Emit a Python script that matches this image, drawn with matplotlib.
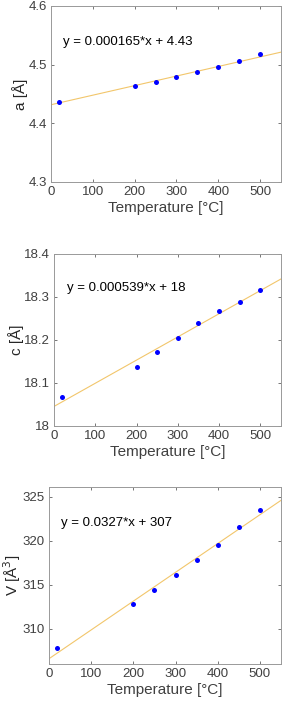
import numpy as np
import matplotlib
matplotlib.use('Agg')
import matplotlib.pyplot as plt

plt.rcParams['font.family'] = ['Liberation Sans', 'DejaVu Sans']

temp = [20, 200, 250, 300, 350, 400, 450, 500]
a_vals = [4.4367, 4.4640, 4.4708, 4.4788, 4.4867, 4.4953, 4.5067, 4.5175]
c_vals = [18.0668, 18.1383, 18.1732, 18.2043, 18.2400, 18.2680, 18.2890, 18.3169]
v_vals = [307.81, 312.86, 314.45, 316.07, 317.76, 319.53, 321.53, 323.53]

# fit lines (slope, intercept)
a_fit = (0.000163, 4.4317)
c_fit = (0.000539, 18.0455)
v_fit = (0.0327, 306.6)

eqs = ['y = 0.000165*x + 4.43', 'y = 0.000539*x + 18', 'y = 0.0327*x + 307']
ylabels = ['a [Å]', 'c [Å]', 'V [Å$^3$]']
yticks = [[4.3, 4.4, 4.5, 4.6], [18, 18.1, 18.2, 18.3, 18.4], [310, 315, 320, 325]]
yticklabels = [['4.3', '4.4', '4.5', '4.6'], ['18', '18.1', '18.2', '18.3', '18.4'], ['310', '315', '320', '325']]
ylims = [(4.3, 4.6), (18, 18.4), (306.0, 326.1)]
xticks = [0, 100, 200, 300, 400, 500]

W, H = 283, 706
fig = plt.figure(figsize=(W / 100, H / 100), dpi=100)

# axes boxes in pixels: left, top, right, bottom
boxes = [(51, 6, 281, 182), (54, 254, 281, 426), (49, 487, 281, 664)]
text_pos = [(28.7, 4.539), (31.5, 18.321), (28.4, 322.0)]

series = [a_vals, c_vals, v_vals]
fits = [a_fit, c_fit, v_fit]

fx = np.array([0, 550])
for i in range(3):
    l, t, r, b = boxes[i]
    ax = fig.add_axes([l / W, 1 - b / H, (r - l) / W, (b - t) / H])
    m, q = fits[i]
    ax.plot(fx, m * fx + q, color='#f2c66b', lw=0.8, zorder=1)
    ax.plot(temp, series[i], 'o', color='#0000ff', markersize=3.6, markeredgewidth=0, zorder=2)
    ax.set_xlim(0, 550)
    ax.set_ylim(*ylims[i])
    ax.set_xticks(xticks)
    ax.set_yticks(yticks[i])
    ax.set_yticklabels(yticklabels[i])
    ax.tick_params(direction='in', top=True, right=True, labelsize=9.5,
                   colors='#404040', length=2.5, width=0.5, pad=3)
    for s in ax.spines.values():
        s.set_color('#999999')
        s.set_linewidth(0.7)
    ax.set_xlabel('Temperature [°C]', fontsize=11, color='#404040', labelpad=2)
    ax.set_ylabel(ylabels[i], fontsize=11, color='#262626', labelpad=0)
    ax.text(text_pos[i][0], text_pos[i][1], eqs[i], fontsize=9.5, va='center', ha='left', color='black')

fig.savefig('out.png', dpi=100)
